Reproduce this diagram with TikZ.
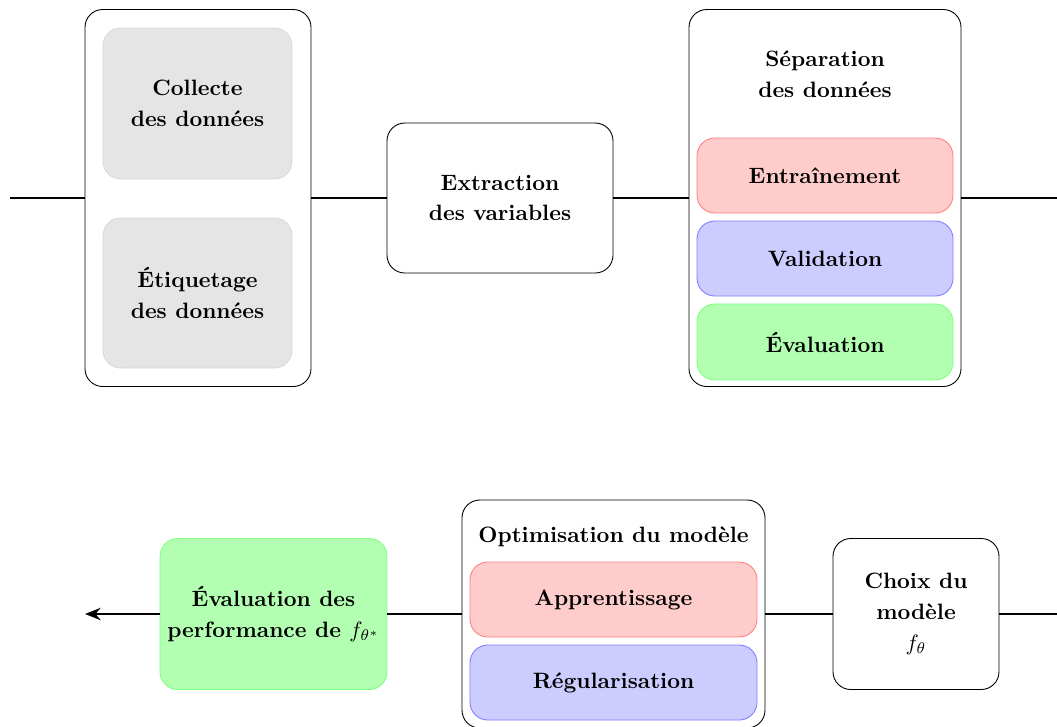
\documentclass[tikz,border=0pt]{standalone}
\usetikzlibrary{arrows.meta}

\def\pxu{0.45pt}

\begin{document}
\begin{tikzpicture}[x=\pxu, y=-\pxu,
    box/.style={draw, rounded corners=8pt, align=center, inner sep=0pt,
      font={\bfseries\linespread{1.15}\selectfont}},
    groupbox/.style={box, fill=white},
    stepbox/.style={box, draw=gray!30, fill=gray!20},
    trainbox/.style={box, draw=red!50, fill=red!20},
    validbox/.style={box, draw=blue!50, fill=blue!20},
    testbox/.style={box, draw=green!50, fill=green!30},
    link/.style={line width=1.1pt}]
      \useasboundingbox (0,0) rectangle (1057,726);

      % first row
      \node[groupbox, minimum width=226*\pxu, minimum height=377*\pxu] (prep) at (198,198) {};
      \node[stepbox, minimum width=189*\pxu, minimum height=151*\pxu] (collect) at (197.5,103.5) {Collecte\\des données};
      \node[stepbox, minimum width=189*\pxu, minimum height=150*\pxu] (label) at (197.5,293) {Étiquetage\\des données};

      \node[groupbox, minimum width=226*\pxu, minimum height=150*\pxu] (extract) at (500,198) {Extraction\\des variables};

      \node[groupbox, minimum width=272*\pxu, minimum height=377*\pxu] (split) at (825,198) {};
      \node[align=center, font={\bfseries\linespread{1.15}\selectfont}] (splittitle) at (825,74) {Séparation\\des données};
      \node[trainbox, minimum width=256*\pxu, minimum height=75*\pxu] (train) at (825,175.5) {Entraînement};
      \node[validbox, minimum width=256*\pxu, minimum height=75*\pxu] (valid) at (825,258.5) {Validation};
      \node[testbox, minimum width=256*\pxu, minimum height=76*\pxu] (test) at (825,342) {Évaluation};

      \coordinate (in) at (10,198);
      \coordinate (out) at (1057,198);
      \draw[link] (in) -- (prep);
      \draw[link] (prep) -- (extract);
      \draw[link] (extract) -- (split);
      \draw[link] (split) -- (out);

      % second row
      \node[groupbox, minimum width=166*\pxu, minimum height=151*\pxu] (choice) at (916,614) {Choix du\\modèle\\$f_\theta$};

      \node[groupbox, minimum width=303*\pxu, minimum height=228*\pxu] (optim) at (613.5,614) {};
      \node[font=\bfseries] (optimtitle) at (613.5,537) {Optimisation du modèle};
      \node[trainbox, minimum width=287*\pxu, minimum height=75*\pxu] (learn) at (613.5,599.5) {Apprentissage};
      \node[validbox, minimum width=287*\pxu, minimum height=75*\pxu] (reg) at (613.5,682.5) {Régularisation};

      \node[testbox, minimum width=227*\pxu, minimum height=151*\pxu] (perf) at (273.5,614) {Évaluation des\\performance de $f_{\theta^*}$};

      \coordinate (back) at (1057,614);
      \coordinate (end) at (85,614);
      \draw[link] (back) -- (choice);
      \draw[link] (choice) -- (optim);
      \draw[link] (optim) -- (perf);
      \draw[link, -{Stealth[length=7pt, width=5.5pt]}] (perf) -- (end);
\end{tikzpicture}
\end{document}
